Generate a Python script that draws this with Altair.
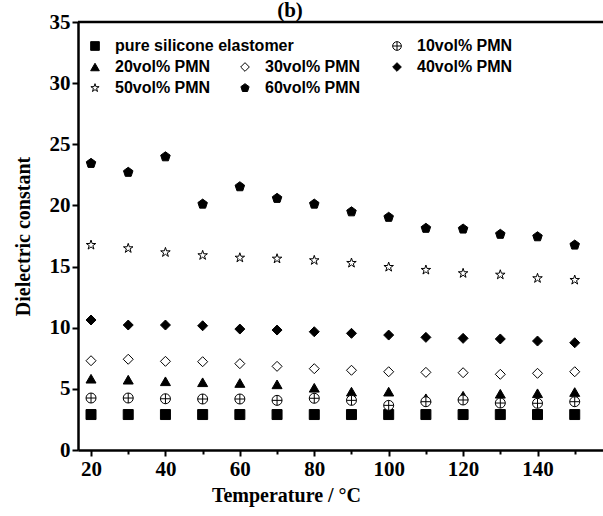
import altair as alt
import pandas as pd

temps = [20, 30, 40, 50, 60, 70, 80, 90, 100, 110, 120, 130, 140, 150]

pure = [2.9, 2.9, 2.9, 2.9, 2.9, 2.9, 2.9, 2.9, 2.9, 2.9, 2.9, 2.9, 2.9, 2.9]
pmn10 = [4.25, 4.25, 4.19, 4.17, 4.17, 4.06, 4.23, 4.06, 3.65, 3.95, 4.09, 3.84, 3.82, 3.95]
pmn20 = [5.83, 5.75, 5.62, 5.54, 5.48, 5.37, 5.09, 4.77, 4.77, 4.23, 4.44, 4.60, 4.64, 4.74]
pmn30 = [7.30, 7.42, 7.25, 7.22, 7.06, 6.84, 6.65, 6.52, 6.40, 6.35, 6.32, 6.19, 6.27, 6.40]
pmn40 = [10.63, 10.22, 10.22, 10.16, 9.89, 9.81, 9.67, 9.54, 9.40, 9.21, 9.13, 9.08, 8.91, 8.77]
pmn50 = [16.76, 16.49, 16.16, 15.92, 15.72, 15.64, 15.51, 15.29, 14.96, 14.72, 14.45, 14.33, 14.04, 13.90]
pmn60 = [23.44, 22.71, 23.98, 20.11, 21.53, 20.58, 20.11, 19.48, 19.03, 18.13, 18.07, 17.64, 17.44, 16.76]

names = ["pure silicone elastomer", "10vol% PMN", "20vol% PMN", "30vol% PMN",
         "40vol% PMN", "50vol% PMN", "60vol% PMN"]
series = [pure, pmn10, pmn20, pmn30, pmn40, pmn50, pmn60]

rows = []
for n, vals in zip(names, series):
    for t, v in zip(temps, vals):
        rows.append({"T": t, "eps": v, "series": n})
df = pd.DataFrame(rows)

STAR = "M0,-1L0.2245,-0.309L0.951,-0.309L0.363,0.118L0.588,0.809L0,0.382L-0.588,0.809L-0.363,0.118L-0.951,-0.309L-0.2245,-0.309Z"
PENT = "M0,-1L0.951,-0.309L0.588,0.809L-0.588,0.809L-0.951,-0.309Z"
CPLUS = "M-1,0A1,1 0 1,0 1,0A1,1 0 1,0 -1,0M-1,0L1,0M0,-1L0,1"

style = {
    "pure silicone elastomer": ("square", "black"),
    "10vol% PMN": (CPLUS, "white"),
    "20vol% PMN": ("triangle-up", "black"),
    "30vol% PMN": ("diamond", "white"),
    "40vol% PMN": ("diamond", "black"),
    "50vol% PMN": (STAR, "white"),
    "60vol% PMN": (PENT, "black"),
}

W, H = 525, 428
xscale = alt.Scale(domain=[16.5, 157.6], nice=False, zero=False)
yscale = alt.Scale(domain=[0, 35], nice=False)

xaxis = alt.Axis(
    title="Temperature / °C", values=list(range(20, 151, 10)),
    labelExpr="datum.value % 20 === 0 ? datum.label : ''",
    labelFont="Liberation Serif", labelFontWeight="bold", labelFontSize=21,
    labelColor="black", labelPadding=2,
    titleFont="Liberation Serif", titleFontWeight="bold", titleFontSize=20,
    titleColor="black", titleX=208, titleY=51, titleAlign="center",
    titleBaseline="alphabetic",
    grid=False, domainColor="black", domainWidth=2.5,
    tickColor="black", tickWidth=2,
    tickSize={"condition": {"test": "datum.value % 20 === 0", "value": 6}, "value": 4},
)
yaxis = alt.Axis(
    title="Dielectric constant", values=[v * 2.5 for v in range(0, 15)],
    labelExpr="datum.value % 5 === 0 ? datum.label : ''",
    labelFont="Liberation Serif", labelFontWeight="bold", labelFontSize=21,
    labelColor="black", labelPadding=2,
    titleFont="Liberation Serif", titleFontWeight="bold", titleFontSize=20,
    titleColor="black", titlePadding=16,
    grid=False, domainColor="black", domainWidth=2.5,
    tickColor="black", tickWidth=2,
    tickSize={"condition": {"test": "datum.value % 5 === 0", "value": 6}, "value": 4},
)

groups = [
    (["pure silicone elastomer", "20vol% PMN", "50vol% PMN"], 9, 16),
    (["30vol% PMN", "60vol% PMN"], 159, 37),
    (["10vol% PMN", "40vol% PMN"], 311, 16),
]

layers = []
for i, (members, lx, ly) in enumerate(groups):
    leg = alt.Legend(
        title=None, orient="none", legendX=lx, legendY=ly, padding=0,
        labelFont="Liberation Sans", labelFontWeight="bold", labelFontSize=16,
        labelColor="black", labelOffset=12, rowPadding=5, symbolSize=75,
        symbolStrokeWidth=1, labelLimit=400,
    )
    sub = df[df["series"].isin(members)]
    shape_scale = alt.Scale(domain=members, range=[style[m][0] for m in members])
    fill_scale = alt.Scale(domain=members, range=[style[m][1] for m in members])
    stroke_scale = alt.Scale(domain=members, range=["black" for m in members])
    enc = dict(
        shape=alt.Shape("series:N", scale=shape_scale, legend=leg),
        fill=alt.Fill("series:N", scale=fill_scale, legend=leg),
        stroke=alt.Stroke("series:N", scale=stroke_scale, legend=leg),
    )
    if i == 0:
        enc["x"] = alt.X("T:Q", scale=xscale, axis=xaxis)
        enc["y"] = alt.Y("eps:Q", scale=yscale, axis=yaxis)
    else:
        enc["x"] = alt.X("T:Q", scale=xscale)
        enc["y"] = alt.Y("eps:Q", scale=yscale)
    layer = alt.Chart(sub).mark_point(filled=True, strokeWidth=1,
                                       size=100, opacity=1).encode(**enc)
    layers.append(layer)

top_line = alt.Chart(pd.DataFrame({"a": [0]})).mark_rule(
    color="black", strokeWidth=2.5).encode(
    x=alt.value(0), x2=alt.value(W), y=alt.value(0))

panel_label = alt.Chart(pd.DataFrame({"t": ["(b)"]})).mark_text(
    font="Liberation Serif", fontWeight="bold", fontSize=21, color="black",
    align="center", baseline="alphabetic").encode(
    text="t:N", x=alt.value(212), y=alt.value(-5))

chart = alt.layer(*layers, top_line, panel_label).resolve_scale(
    shape="independent", fill="independent", stroke="independent"
).properties(
    width=W, height=H,
    padding={"left": 78, "top": 22, "right": 0, "bottom": 66},
    autosize=alt.AutoSizeParams(type="none"),
).configure_view(stroke=None, clip=False).configure(background="white")

chart.save("out.html", embed_options={"renderer": "svg", "actions": False})
